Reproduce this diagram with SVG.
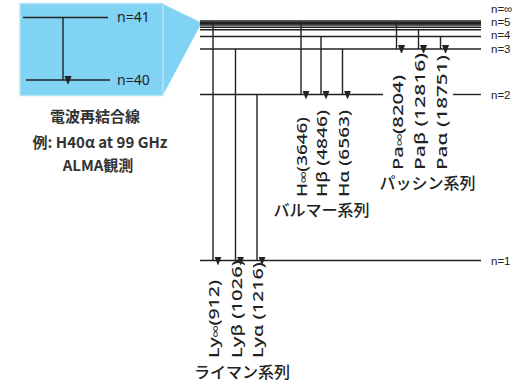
<svg xmlns="http://www.w3.org/2000/svg" width="518" height="385" viewBox="0 0 518 385">
<style>
.lv{stroke:#222;stroke-width:1.4;fill:none}
.ar{stroke:#222;stroke-width:1.4;fill:none;marker-end:url(#ah)}
.nl{font-family:"Liberation Sans",sans-serif;font-size:11.5px;fill:#222}
.bn{font-family:"Noto Sans","Liberation Sans",sans-serif;font-size:14px;fill:#222}
.rl{font-family:"Noto Sans","Noto Sans CJK JP",sans-serif;font-size:15px;font-weight:500;fill:#222}
.jp{font-family:"Noto Sans CJK JP",sans-serif;font-size:16px;font-weight:500;fill:#222;text-anchor:middle}
.lt{font-family:"Noto Sans CJK JP",sans-serif;font-size:15px;font-weight:bold;fill:#333;text-anchor:middle}
.inf{font-size:9px}
</style>
<defs>
<marker id="ah" markerUnits="userSpaceOnUse" markerWidth="8" markerHeight="10" viewBox="0 0 8 10" refX="4" refY="10" orient="auto-start-reverse">
<path d="M0,0 L8,0 L4,10 Z" fill="#222" transform="rotate(-90 4 5)"/>
</marker>
</defs>
<g id="zoom-box">
<polygon points="163,4 200,22 200,26 163,95" fill="#80d3f3"/>
<rect x="20" y="3.5" width="143" height="92" fill="#80d3f3" stroke="#b5e6f8" stroke-width="1.5"/>
<line class="lv" x1="23" y1="17.5" x2="108" y2="17.5"/>
<line class="lv" x1="26" y1="80" x2="110" y2="80"/>
<line class="ar" x1="63" y1="17.5" x2="63" y2="80"/>
<text class="bn" x="117" y="22">n=41</text>
<text class="bn" x="117" y="85">n=40</text>
</g>
<g id="caption">
<text class="lt" x="95" y="122">電波再結合線</text>
<text class="lt" x="100" y="148">例: H40α at 99 GHz</text>
<text class="lt" x="98" y="171">ALMA観測</text>
</g>
<g id="levels">
<line class="lv" x1="200" y1="21" x2="481" y2="21"/>
<line class="lv" x1="200" y1="22.4" x2="481" y2="22.4"/>
<line class="lv" x1="200" y1="23.7" x2="481" y2="23.7"/>
<line class="lv" x1="200" y1="25" x2="481" y2="25"/>
<line class="lv" x1="200" y1="27.3" x2="481" y2="27.3"/>
<line class="lv" x1="200" y1="29.8" x2="481" y2="29.8"/>
<line class="lv" x1="200" y1="36.5" x2="481" y2="36.5"/>
<line class="lv" x1="200" y1="49" x2="481" y2="49"/>
<line class="lv" x1="200" y1="94.5" x2="383" y2="94.5"/>
<line class="lv" x1="453" y1="94.5" x2="481" y2="94.5"/>
<line class="lv" x1="200" y1="260.5" x2="481" y2="260.5"/>
<text class="nl" x="491" y="13">n=∞</text>
<text class="nl" x="491" y="25.5">n=5</text>
<text class="nl" x="491" y="39">n=4</text>
<text class="nl" x="491" y="53">n=3</text>
<text class="nl" x="491" y="99">n=2</text>
<text class="nl" x="491" y="265">n=1</text>
</g>
<g id="connectors">
<line class="ar" x1="213" y1="21" x2="213" y2="260.5"/>
<line class="ar" x1="235.5" y1="49" x2="235.5" y2="260.5"/>
<line class="ar" x1="257" y1="94.5" x2="257" y2="260.5"/>
<line class="ar" x1="301" y1="21" x2="301" y2="94.5"/>
<line class="ar" x1="321" y1="36.5" x2="321" y2="94.5"/>
<line class="ar" x1="342.5" y1="49" x2="342.5" y2="94.5"/>
<line class="ar" x1="396.5" y1="21" x2="396.5" y2="49"/>
<line class="ar" x1="418.5" y1="29.8" x2="418.5" y2="49"/>
<line class="ar" x1="440.5" y1="36.5" x2="440.5" y2="49"/>
</g>
<g id="lyman">
<text class="rl" transform="translate(219 358) rotate(-90)" textLength="78" lengthAdjust="spacingAndGlyphs">Ly<tspan class="inf">∞</tspan>(912)</text>
<text class="rl" transform="translate(241.5 358) rotate(-90)" textLength="98" lengthAdjust="spacingAndGlyphs">Lyβ (1026)</text>
<text class="rl" transform="translate(263 358) rotate(-90)" textLength="96" lengthAdjust="spacingAndGlyphs">Lyα (1216)</text>
<text class="jp" x="242" y="378">ライマン系列</text>
</g>
<g id="balmer">
<text class="rl" transform="translate(307 197) rotate(-90)" textLength="80" lengthAdjust="spacingAndGlyphs">H<tspan class="inf">∞</tspan>(3646)</text>
<text class="rl" transform="translate(327 197) rotate(-90)" textLength="87" lengthAdjust="spacingAndGlyphs">Hβ (4846)</text>
<text class="rl" transform="translate(348.5 197) rotate(-90)" textLength="87" lengthAdjust="spacingAndGlyphs">Hα (6563)</text>
<text class="jp" x="321.5" y="216">バルマー系列</text>
</g>
<g id="paschen">
<text class="rl" transform="translate(402.5 170) rotate(-90)" textLength="95" lengthAdjust="spacingAndGlyphs">Pa<tspan class="inf">∞</tspan>(8204)</text>
<text class="rl" transform="translate(424.5 170) rotate(-90)" textLength="117" lengthAdjust="spacingAndGlyphs">Paβ (12816)</text>
<text class="rl" transform="translate(446.5 170) rotate(-90)" textLength="115" lengthAdjust="spacingAndGlyphs">Paα (18751)</text>
<text class="jp" x="427.5" y="189">パッシン系列</text>
</g>
</svg>
